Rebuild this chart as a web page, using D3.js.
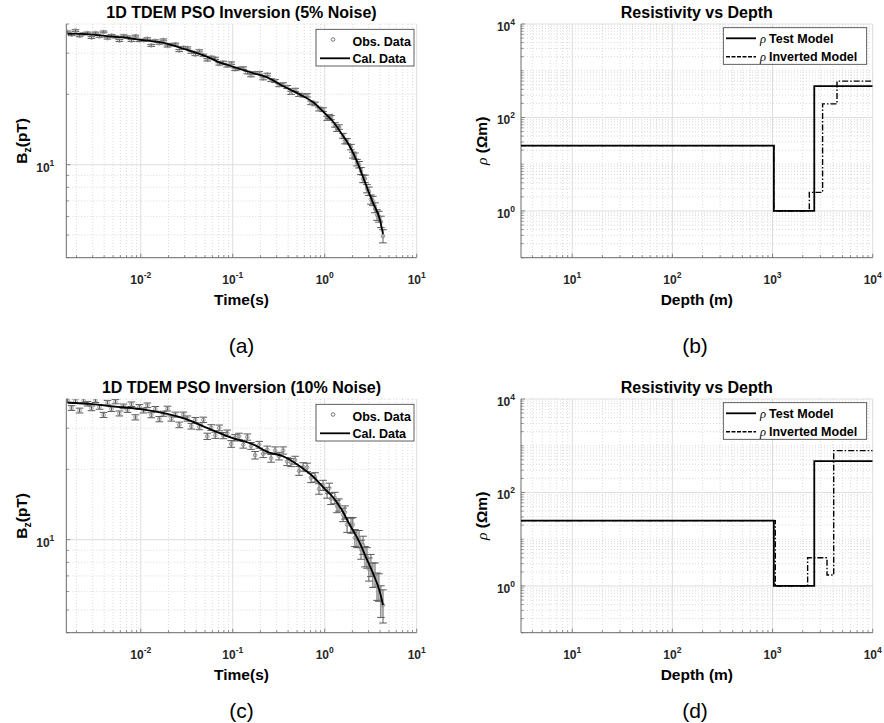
<!DOCTYPE html>
<html>
<head>
<meta charset="utf-8">
<title>1D TDEM PSO Inversion</title>
<script src="https://cdn.jsdelivr.net/npm/d3@7/dist/d3.min.js"></script>
<style>
  body { margin: 0; background: #fff; }
  svg { display: block; }
</style>
</head>
<body>
<script>
// ---- data ----
const timeObs = [0.0016, 0.00177, 0.00195, 0.00216, 0.00239, 0.00264, 0.00291, 0.00322, 0.00356, 0.00394,
  0.00435, 0.0048, 0.00531, 0.00586, 0.00649, 0.00716, 0.00791, 0.00875, 0.00966, 0.0107,
  0.0118, 0.013, 0.0144, 0.0159, 0.0176, 0.0195, 0.0215, 0.0238, 0.0262, 0.029,
  0.0321, 0.0354, 0.0392, 0.0433, 0.0479, 0.0528, 0.0583, 0.0646, 0.0713, 0.0789,
  0.0871, 0.0962, 0.106, 0.117, 0.13, 0.144, 0.158, 0.175, 0.194, 0.214,
  0.237, 0.261, 0.289, 0.319, 0.353, 0.39, 0.431, 0.476, 0.526, 0.582,
  0.643, 0.71, 0.785, 0.867, 0.959, 1.06, 1.12, 1.17, 1.29, 1.36,
  1.43, 1.58, 1.66, 1.75, 1.93, 2.02, 2.13, 2.24, 2.36, 2.48,
  2.61, 2.74, 2.88, 3.02, 3.18, 3.34, 3.52, 3.70, 3.88, 4.08, 4.30];

// 5% noise observed Bz (pT)
const obsA = [37.0, 36.0, 37.5, 35.6, 36.3, 36.6, 35.0, 36.6, 35.4, 37.0,
  34.8, 35.7, 35.2, 34.0, 35.6, 35.2, 34.0, 35.5, 34.0, 34.1,
  34.6, 32.4, 33.9, 33.1, 34.2, 32.2, 32.6, 32.8, 30.8, 31.7,
  31.6, 30.3, 29.6, 30.7, 29.4, 28.1, 28.8, 28.5, 27.0, 27.4,
  26.5, 27.2, 25.6, 25.8, 25.9, 24.8, 24.1, 24.7, 24.7, 23.4,
  24.3, 23.0, 22.8, 21.9, 22.1, 21.5, 20.3, 20.9, 19.9, 19.8,
  19.8, 18.4, 18.2, 17.3, 17.2, 15.8, 16.1, 15.9, 14.8, 14.2,
  14.5, 13.3, 12.6, 12.6, 11.9, 11.0, 10.9, 10.2, 10.0, 9.4,
  8.7, 8.7, 7.9, 7.7, 7.1, 7.0, 6.55, 6.1, 6.0, 5.7, 4.95];

// 10% noise observed Bz (pT)
const obsC = [39.6, 36.6, 39.2, 35.7, 39.4, 38.2, 36.5, 39.5, 37.0, 34.2,
  38.6, 36.2, 39.0, 34.7, 37.2, 35.9, 38.0, 33.4, 37.0, 35.7,
  37.6, 34.1, 36.3, 32.8, 34.6, 36.4, 33.0, 34.3, 31.0, 34.3,
  33.0, 30.6, 32.5, 30.4, 32.6, 27.7, 30.2, 28.0, 30.1, 27.9,
  28.6, 25.7, 27.3, 27.7, 25.5, 27.5, 25.2, 23.0, 25.5, 23.3,
  24.3, 22.3, 24.1, 22.8, 24.1, 21.6, 21.4, 21.9, 19.7, 20.5,
  20.4, 18.4, 18.5, 16.5, 17.1, 15.9, 16.6, 15.0, 15.1, 13.9,
  14.1, 12.8, 13.1, 11.6, 11.5, 11.6, 10.2, 10.1, 10.1, 9.1,
  9.5, 8.5, 8.4, 7.5, 7.8, 7.1, 7.1, 6.35, 6.3, 5.5, 5.25];

// absolute error bar half-heights (pT)
const errA = 0.32;
const errC = 0.85;

// calculated responses
const calcTimeA = [0.0016, 0.002, 0.003, 0.005, 0.0075, 0.01, 0.0177, 0.0318, 0.0525, 0.0675,
  0.1, 0.169, 0.234, 0.359, 0.546, 0.762, 1.0, 1.23, 1.52, 1.87, 2.36, 2.85, 3.36, 3.98, 4.3];
const calcA = [36.3, 36.4, 36.0, 35.3, 34.8, 34.2, 33.2, 31.0, 29.0, 27.7,
  26.3, 24.6, 23.7, 21.6, 19.9, 18.4, 16.6, 15.3, 13.6, 12.0, 9.84, 8.07, 6.85, 5.82, 5.05];
const calcTimeC = [0.0016, 0.003, 0.005, 0.01, 0.0318, 0.0525, 0.1, 0.169, 0.234, 0.359,
  0.546, 0.762, 1.0, 1.23, 1.52, 1.87, 2.36, 2.85, 3.36, 3.98, 4.3];
const calcC = [38.55, 38.0, 37.2, 36.2, 32.7, 30.1, 27.2, 25.5, 23.8, 22.7,
  20.5, 18.5, 16.5, 15.2, 13.5, 11.6, 9.84, 8.3, 7.16, 5.97, 5.25];

// resistivity models: layer top depth (m) and resistivity (ohm.m)
const testTop = [3, 1030, 2610];
const testRho = [25, 1, 470];
const invTopB = [3, 1030, 2330, 3160, 4400];
const invRhoB = [25, 1, 2.5, 195, 600];
const invTopD = [3, 1066, 2240, 3500, 4080];
const invRhoD = [25, 1, 4.0, 1.71, 787];
const maxDepth = 10000;

const titles = ["1D TDEM PSO Inversion (5% Noise)", "Resistivity vs Depth",
                "1D TDEM PSO Inversion (10% Noise)", "Resistivity vs Depth"];
const captions = ["(a)", "(b)", "(c)", "(d)"];
const rhoTicks = [1, 100, 10000];

// ---- layout ----
const W = 884, H = 723;
const FONT = '"Liberation Sans", Arial, Helvetica, sans-serif';
const ROW = 375;
const boxL = { x0: 66.3, x1: 416.7, y0: 24, y1: 257.7 };
const boxR = { x0: 521, x1: 872.7, y0: 24, y1: 257.7 };

const svg = d3.select("body").append("svg")
  .attr("width", W).attr("height", H)
  .style("font-family", FONT);

const isPow = v => Math.abs(Math.log10(v) - Math.round(Math.log10(v))) < 1e-9;

function powLabel(t, v) {
  t.append("tspan").text("10");
  t.append("tspan").attr("dy", -6).attr("font-size", 8.5).text(Math.round(Math.log10(v)));
}

function frame(g, x, y, b, yGap, majY) {
  const inX = v => v >= x.domain()[0] * 0.9999 && v <= x.domain()[1] * 1.0001;
  const inY = v => v >= y.domain()[0] * 0.9999 && v <= y.domain()[1] * 1.0001;
  const xt = x.ticks().filter(inX);
  const yt = y.ticks().filter(inY);
  const majX = isPow;

  const grid = g.append("g");
  grid.selectAll(".gx").data(xt).join("line")
    .attr("x1", d => x(d)).attr("x2", d => x(d))
    .attr("y1", b.y0).attr("y2", b.y1)
    .attr("stroke", d => majX(d) ? "#dedede" : "#d2d2d2")
    .attr("stroke-width", d => majX(d) ? 1 : 0.8)
    .attr("stroke-dasharray", d => majX(d) ? null : "1,2");
  grid.selectAll(".gy").data(yt).join("line")
    .attr("y1", d => y(d)).attr("y2", d => y(d))
    .attr("x1", b.x0).attr("x2", b.x1)
    .attr("stroke", d => majY(d) ? "#dedede" : "#d2d2d2")
    .attr("stroke-width", d => majY(d) ? 1 : 0.8)
    .attr("stroke-dasharray", d => majY(d) ? null : "1,2");

  const ax = g.append("g").attr("class", "axes");
  ax.append("line").attr("x1", b.x0).attr("x2", b.x1).attr("y1", b.y1).attr("y2", b.y1)
    .attr("stroke", "#6b6b6b").attr("stroke-width", 1);
  ax.append("line").attr("x1", b.x0).attr("x2", b.x0).attr("y1", b.y0).attr("y2", b.y1)
    .attr("stroke", "#6b6b6b").attr("stroke-width", 1);
  ax.selectAll(".tx").data(xt).join("line")
    .attr("x1", d => x(d)).attr("x2", d => x(d))
    .attr("y1", b.y1).attr("y2", d => b.y1 - (majX(d) ? 4 : 2.5))
    .attr("stroke", "#6b6b6b").attr("stroke-width", 0.8);
  ax.selectAll(".ty").data(yt).join("line")
    .attr("y1", d => y(d)).attr("y2", d => y(d))
    .attr("x1", b.x0).attr("x2", d => b.x0 + (majY(d) ? 4 : 2.5))
    .attr("stroke", "#6b6b6b").attr("stroke-width", 0.8);

  ax.selectAll(".lx").data(xt.filter(majX)).join("text")
    .attr("x", d => x(d)).attr("y", b.y1 + 26)
    .attr("text-anchor", "middle").attr("font-size", 12).attr("font-weight", "bold")
    .attr("fill", "#262626")
    .each(function (d) { powLabel(d3.select(this), d); });
  ax.selectAll(".ly").data(yt.filter(majY)).join("text")
    .attr("x", b.x0 - yGap).attr("y", d => y(d) + 7)
    .attr("text-anchor", "end").attr("font-size", 12).attr("font-weight", "bold")
    .attr("fill", "#262626")
    .each(function (d) { powLabel(d3.select(this), d); });
}

function titleAndLabel(g, b, i, xLabel) {
  const cx = (b.x0 + b.x1) / 2;
  g.append("text").attr("x", cx).attr("y", 18)
    .attr("text-anchor", "middle").attr("font-size", 16).attr("font-weight", "bold")
    .attr("fill", "#000").text(titles[i]);
  g.append("text").attr("x", cx).attr("y", b.y1 + 47)
    .attr("text-anchor", "middle").attr("font-size", 15.5).attr("font-weight", "bold")
    .attr("fill", "#000").text(xLabel);
}

let clipId = 0;
function clip(g, b) {
  const id = "clip" + (clipId++);
  g.append("clipPath").attr("id", id).append("rect")
    .attr("x", b.x0).attr("y", b.y0).attr("width", b.x1 - b.x0).attr("height", b.y1 - b.y0);
  return g.append("g").attr("clip-path", `url(#${id})`);
}

// ---- Bz decay panels ----
function decayPanel(i, offY, obs, err, calcT, calcV) {
  const g = svg.append("g").attr("transform", `translate(0,${offY})`);
  const b = boxL;
  const x = d3.scaleLog().domain([0.00155, 10]).range([b.x0, b.x1]);
  const y = d3.scaleLog().domain([4, 40]).range([b.y1, b.y0]);
  frame(g, x, y, b, 12, isPow);
  titleAndLabel(g, b, i, "Time(s)");

  const plot = clip(g, b);
  const pts = timeObs.map((t, k) => ({ t, v: obs[k] }));
  const eb = plot.append("g").attr("stroke", "#5a5a5a").attr("stroke-width", 1);
  eb.selectAll(".v").data(pts).join("line")
    .attr("x1", d => x(d.t)).attr("x2", d => x(d.t))
    .attr("y1", d => y(d.v - err)).attr("y2", d => y(d.v + err));
  eb.selectAll(".lo").data(pts).join("line")
    .attr("x1", d => x(d.t) - 3.8).attr("x2", d => x(d.t) + 3.8)
    .attr("y1", d => y(d.v - err)).attr("y2", d => y(d.v - err));
  eb.selectAll(".hi").data(pts).join("line")
    .attr("x1", d => x(d.t) - 3.8).attr("x2", d => x(d.t) + 3.8)
    .attr("y1", d => y(d.v + err)).attr("y2", d => y(d.v + err));
  plot.append("g").selectAll("circle").data(pts).join("circle")
    .attr("cx", d => x(d.t)).attr("cy", d => y(d.v)).attr("r", 1.8)
    .attr("fill", "none").attr("stroke", "#8a8a8a").attr("stroke-width", 0.9);

  const line = d3.line().x(d => x(d[0])).y(d => y(d[1])).curve(d3.curveMonotoneX);
  plot.append("path").datum(calcT.map((t, k) => [t, calcV[k]]))
    .attr("d", line).attr("fill", "none").attr("stroke", "#000").attr("stroke-width", 1.8);

  // y label
  const yl = g.append("text").attr("transform", `translate(26.5,${(b.y0 + b.y1) / 2}) rotate(-90)`)
    .attr("text-anchor", "middle").attr("font-size", 15.5).attr("font-weight", "bold").attr("fill", "#000");
  yl.append("tspan").text("B");
  yl.append("tspan").attr("dy", 4).attr("font-size", 10.5).text("z");
  yl.append("tspan").attr("dy", -4).text("(pT)");

  // legend
  const lg = g.append("g");
  lg.append("rect").attr("x", 316).attr("y", 29.3).attr("width", 98).attr("height", 36.7)
    .attr("fill", "#fff").attr("stroke", "#3a3a3a").attr("stroke-width", 0.8);
  lg.append("circle").attr("cx", 333).attr("cy", 39.5).attr("r", 1.8)
    .attr("fill", "none").attr("stroke", "#6a6a6a").attr("stroke-width", 0.9);
  lg.append("line").attr("x1", 320).attr("x2", 350).attr("y1", 58.3).attr("y2", 58.3)
    .attr("stroke", "#000").attr("stroke-width", 1.8);
  lg.append("text").attr("x", 352.5).attr("y", 46.3).attr("font-size", 12.5).attr("font-weight", "bold").text("Obs. Data");
  lg.append("text").attr("x", 352.5).attr("y", 62.8).attr("font-size", 12.5).attr("font-weight", "bold").text("Cal. Data");
}

// ---- resistivity panels ----
function rhoPanel(i, offY, invTop, invRho) {
  const g = svg.append("g").attr("transform", `translate(0,${offY})`);
  const b = boxR;
  const x = d3.scaleLog().domain([3.08, 10000]).range([b.x0, b.x1]);
  const y = d3.scaleLog().domain([0.1, 10000]).range([b.y1, b.y0]);
  frame(g, x, y, b, 6, v => rhoTicks.some(t => Math.abs(t - v) < 1e-9 * t));
  titleAndLabel(g, b, i, "Depth (m)");

  const plot = clip(g, b);
  const step = d3.line().x(d => x(d[0])).y(d => y(d[1])).curve(d3.curveStepAfter);
  const toPts = (tops, rho) => tops.map((t, k) => [t, rho[k]]).concat([[maxDepth, rho[rho.length - 1]]]);
  plot.append("path").datum(toPts(testTop, testRho)).attr("d", step)
    .attr("fill", "none").attr("stroke", "#000").attr("stroke-width", 1.8);
  plot.append("path").datum(toPts(invTop, invRho)).attr("d", step)
    .attr("fill", "none").attr("stroke", "#000").attr("stroke-width", 1.4)
    .attr("stroke-dasharray", "6,2,1.5,2");

  const yl = g.append("text").attr("transform", `translate(487,${(b.y0 + b.y1) / 2}) rotate(-90)`)
    .attr("text-anchor", "middle").attr("font-size", 15.5).attr("fill", "#000");
  yl.append("tspan").attr("font-family", '"Liberation Serif", "Times New Roman", serif')
    .attr("font-style", "italic").text("\u03C1");
  yl.append("tspan").attr("font-weight", "bold").text(" (\u03A9m)");

  const lg = g.append("g");
  lg.append("rect").attr("x", 723.3).attr("y", 27.7).attr("width", 143.4).attr("height", 36.6)
    .attr("fill", "#fff").attr("stroke", "#3a3a3a").attr("stroke-width", 0.8);
  lg.append("line").attr("x1", 726).attr("x2", 756).attr("y1", 38.3).attr("y2", 38.3)
    .attr("stroke", "#000").attr("stroke-width", 1.8);
  lg.append("line").attr("x1", 726).attr("x2", 756).attr("y1", 56.7).attr("y2", 56.7)
    .attr("stroke", "#000").attr("stroke-width", 1.4).attr("stroke-dasharray", "4,1.5");
  const rows = [["Test Model", 43], ["Inverted Model", 61.3]];
  rows.forEach(([txt, yy]) => {
    const t = lg.append("text").attr("x", 760).attr("y", yy).attr("font-size", 12.5);
    t.append("tspan").attr("font-family", '"Liberation Serif", "Times New Roman", serif')
      .attr("font-style", "italic").text("\u03C1");
    t.append("tspan").attr("font-weight", "bold").attr("dx", 3).text(txt);
  });
}

decayPanel(0, 0, obsA, errA, calcTimeA, calcA);
rhoPanel(1, 0, invTopB, invRhoB);
decayPanel(2, ROW, obsC, errC, calcTimeC, calcC);
rhoPanel(3, ROW, invTopD, invRhoD);

// sub-figure captions
const capPos = [[241.5, 353], [695, 353], [241.5, 718], [695, 718]];
svg.selectAll(".cap").data(captions).join("text")
  .attr("x", (d, k) => capPos[k][0]).attr("y", (d, k) => capPos[k][1])
  .attr("text-anchor", "middle").attr("font-size", 21).attr("fill", "#000")
  .text(d => d);
</script>
</body>
</html>
